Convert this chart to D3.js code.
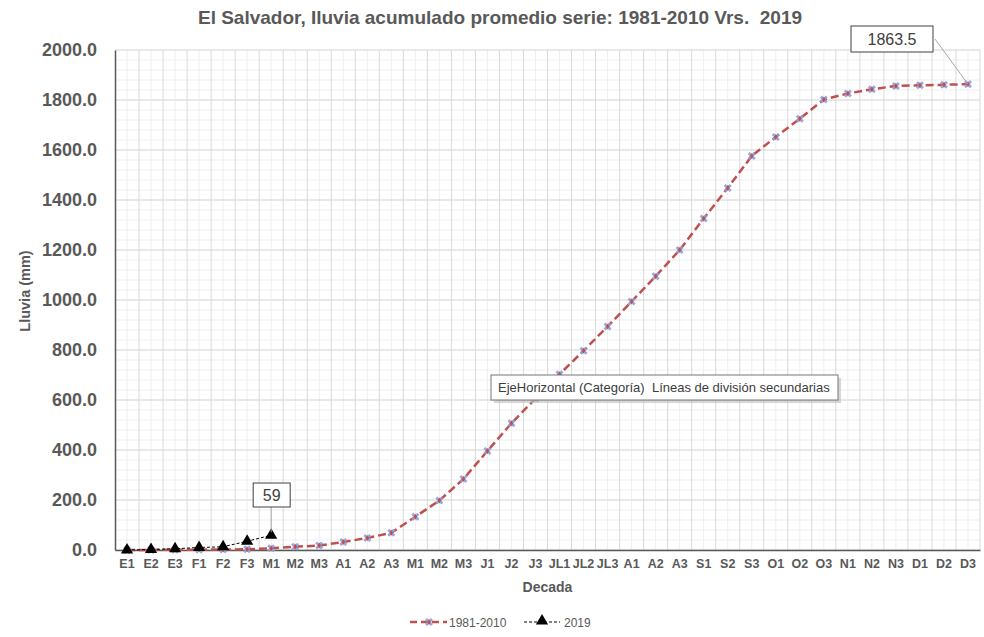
<!DOCTYPE html>
<html>
<head>
<meta charset="utf-8">
<script src="https://cdn.jsdelivr.net/npm/d3@7"></script>
<style>
  body { margin: 0; background: #fff; }
  text { font-family: "Liberation Sans", Arial, sans-serif; }
</style>
</head>
<body>
<svg id="canvas" width="984" height="637"></svg>
<script>

/*
Decadas (eje horizontal) */
var categories = ["E1","E2","E3","F1","F2","F3","M1","M2","M3","A1","A2","A3",
                  "M1","M2","M3","J1","J2","J3","JL1","JL2","JL3","A1","A2","A3",
                  "S1","S2","S3","O1","O2","O3","N1","N2","N3","D1","D2","D3"];
/*
Lluvia acumulada promedio 1981-2010 (mm) */
var serie_8110 = [0.3, 0.5, 1, 1.5, 2, 3, 7, 13, 18, 32, 48, 69,
                  133, 198, 284, 396, 507, 606, 703, 797, 894, 994, 1095, 1200,
                  1326, 1448, 1576, 1652, 1725, 1802, 1826, 1843, 1856, 1859, 1861, 1863.5];
/*
Lluvia acumulada 2019 (mm), solo hasta M1 */
var serie_2019 = [0, 2, 5, 10, 13, 35, 59];
/*
Etiquetas del eje vertical */
var y_ticks = [0, 200, 400, 600, 800, 1000, 1200, 1400, 1600, 1800, 2000];
var y_minor = d3.range(0, 2001, 40);

var legend_names = ["1981-2010", "2019"];

var svg = d3.select("#canvas");
var margin = {left: 115, right: 4, top: 50, bottom: 87};
var W = 984, H = 637;

var x = d3.scaleBand()
    .domain(d3.range(categories.length))
    .range([margin.left, W - margin.right])
    .padding(0);
var y = d3.scaleLinear()
    .domain([0, 2000])
    .range([H - margin.bottom, margin.top]);

function cx(i) { return x(i) + x.bandwidth() / 2; }

/*
Lineas de division secundarias */
svg.append("g").selectAll("line.hmin")
    .data(y_minor).enter().append("line")
    .attr("x1", margin.left).attr("x2", W - margin.right)
    .attr("y1", function(d) { return y(d); }).attr("y2", function(d) { return y(d); })
    .attr("stroke", "#efefef").attr("stroke-width", 1);
svg.append("g").selectAll("line.vmin")
    .data(d3.range(categories.length)).enter().append("line")
    .attr("x1", function(d) { return cx(d); }).attr("x2", function(d) { return cx(d); })
    .attr("y1", margin.top).attr("y2", y(0))
    .attr("stroke", "#efefef").attr("stroke-width", 1);

/*
Lineas de division principales */
svg.append("g").selectAll("line.hmaj")
    .data(y_ticks).enter().append("line")
    .attr("x1", margin.left).attr("x2", W - margin.right)
    .attr("y1", function(d) { return y(d); }).attr("y2", function(d) { return y(d); })
    .attr("stroke", "#d9d9d9").attr("stroke-width", 1);
svg.append("g").selectAll("line.vmaj")
    .data(d3.range(1, categories.length + 1)).enter().append("line")
    .attr("x1", function(d) { return x.range()[0] + d * x.bandwidth(); })
    .attr("x2", function(d) { return x.range()[0] + d * x.bandwidth(); })
    .attr("y1", margin.top).attr("y2", y(0))
    .attr("stroke", "#d9d9d9").attr("stroke-width", 1);

/*
Ejes */
var yAxis = svg.append("g")
    .attr("transform", "translate(" + margin.left + ",0)")
    .call(d3.axisLeft(y).tickValues(y_ticks).tickFormat(d3.format(".1f")).tickSize(0).tickPadding(18));
yAxis.select(".domain").attr("stroke", "#595959").attr("stroke-width", 1.5);
yAxis.selectAll("text")
    .attr("fill", "#595959").attr("font-size", "18px").attr("font-weight", "bold")
    .attr("font-family", "Liberation Sans, Arial, sans-serif");

var xAxis = svg.append("g")
    .attr("transform", "translate(0," + y(0) + ")")
    .call(d3.axisBottom(x).tickFormat(function(i) { return categories[i]; }).tickSize(0).tickPadding(9));
xAxis.select(".domain").attr("stroke", "#595959").attr("stroke-width", 1.5);
xAxis.selectAll("text")
    .attr("fill", "#595959").attr("font-size", "12.5px").attr("font-weight", "bold")
    .attr("font-family", "Liberation Sans, Arial, sans-serif");

/*
Titulos */
svg.append("text")
    .attr("x", 500).attr("y", 24)
    .attr("text-anchor", "middle")
    .attr("font-size", "19px").attr("font-weight", "bold").attr("fill", "#595959")
    .style("white-space", "pre")
    .text("El Salvador, Iluvia acumulado promedio serie: 1981-2010 Vrs.  2019");
svg.append("text")
    .attr("x", (margin.left + W - margin.right) / 2).attr("y", 592)
    .attr("text-anchor", "middle")
    .attr("font-size", "14px").attr("font-weight", "bold").attr("fill", "#595959")
    .text("Decada");
svg.append("text")
    .attr("transform", "translate(30,291) rotate(-90)")
    .attr("text-anchor", "middle")
    .attr("font-size", "14.5px").attr("font-weight", "bold").attr("fill", "#595959")
    .text("Lluvia (mm)");

/*
Serie 1981-2010 */
var line = d3.line()
    .x(function(d, i) { return cx(i); })
    .y(function(d) { return y(d); });

svg.append("path")
    .datum(serie_8110)
    .attr("d", line)
    .attr("fill", "none").attr("stroke", "#c0504d")
    .attr("stroke-width", 2.5).attr("stroke-dasharray", "8,4");

var cross = d3.symbol().type(d3.symbolCross).size(40);
var dot = d3.symbol().type(d3.symbolDiamond).size(10);
function draw_cross_marker(g, px, py) {
    g.append("path").attr("d", cross).attr("transform", "translate(" + px + "," + py + ") rotate(45)")
        .attr("fill", "#8e9fd8").attr("opacity", 0.9);
    g.append("path").attr("d", dot).attr("transform", "translate(" + px + "," + py + ")")
        .attr("fill", "#c0504d");
}
var m1 = svg.append("g");
serie_8110.forEach(function(d, i) { draw_cross_marker(m1, cx(i), y(d)); });

/*
Serie 2019 */
svg.append("path")
    .datum(serie_2019)
    .attr("d", line)
    .attr("fill", "none").attr("stroke", "#000")
    .attr("stroke-width", 1).attr("stroke-dasharray", "3,2");

var tri = d3.symbol().type(d3.symbolTriangle).size(64);
svg.append("g").selectAll("path")
    .data(serie_2019).enter().append("path")
    .attr("d", tri)
    .attr("transform", function(d, i) { return "translate(" + cx(i) + "," + y(d) + ")"; })
    .attr("fill", "#000");

/*
Etiquetas de datos */
function data_label(txt, bx, by, bw, bh, lx1, ly1, lx2, ly2) {
    svg.append("line")
        .attr("x1", lx1).attr("y1", ly1).attr("x2", lx2).attr("y2", ly2)
        .attr("stroke", "#a6a6a6").attr("stroke-width", 1);
    svg.append("rect")
        .attr("x", bx).attr("y", by).attr("width", bw).attr("height", bh)
        .attr("fill", "#fff").attr("stroke", "#404040").attr("stroke-width", 1);
    svg.append("text")
        .attr("x", bx + bw / 2).attr("y", by + bh / 2 + 6)
        .attr("text-anchor", "middle")
        .attr("font-size", "16px").attr("fill", "#404040")
        .text(txt);
}
var last_2019 = serie_2019.length - 1;
data_label(String(serie_2019[last_2019]), cx(last_2019) - 18, 483, 37, 24,
           cx(last_2019), 507, cx(last_2019), y(serie_2019[last_2019]) - 3);
var last_8110 = serie_8110.length - 1;
data_label(String(serie_8110[last_8110]), 851, 26, 82, 26,
           935, 39, cx(last_8110), y(serie_8110[last_8110]));

/*
Informacion emergente */
var tip = svg.append("g").attr("transform", "translate(491,375)");
tip.append("rect").attr("x", 3).attr("y", 3).attr("width", 347).attr("height", 25)
    .attr("fill", "#bdbdbd").attr("opacity", 0.6);
tip.append("rect").attr("width", 347).attr("height", 25)
    .attr("fill", "#fff").attr("stroke", "#767676").attr("stroke-width", 1);
tip.append("text").attr("x", 7).attr("y", 17)
    .attr("font-family", "Open Sans, Noto Sans, sans-serif")
    .attr("font-size", "13px").attr("fill", "#3c3c3c")
    .style("white-space", "pre")
    .text("EjeHorizontal (Categoría)  Líneas de división secundarias");

/*
Leyenda */
var leg = svg.append("g");
leg.append("line").attr("x1", 410).attr("x2", 447).attr("y1", 622).attr("y2", 622)
    .attr("stroke", "#c0504d").attr("stroke-width", 2.5).attr("stroke-dasharray", "7,4");
draw_cross_marker(leg, 429, 622);
leg.append("text").attr("x", 449).attr("y", 626.5)
    .attr("font-size", "12px").attr("fill", "#595959").text(legend_names[0]);
leg.append("line").attr("x1", 524).attr("x2", 560).attr("y1", 622).attr("y2", 622)
    .attr("stroke", "#000").attr("stroke-width", 1).attr("stroke-dasharray", "3,2");
leg.append("path").attr("d", tri).attr("transform", "translate(542,621)").attr("fill", "#000");
leg.append("text").attr("x", 564).attr("y", 626.5)
    .attr("font-size", "12px").attr("fill", "#595959").text(legend_names[1]);

</script>
</body>
</html>
